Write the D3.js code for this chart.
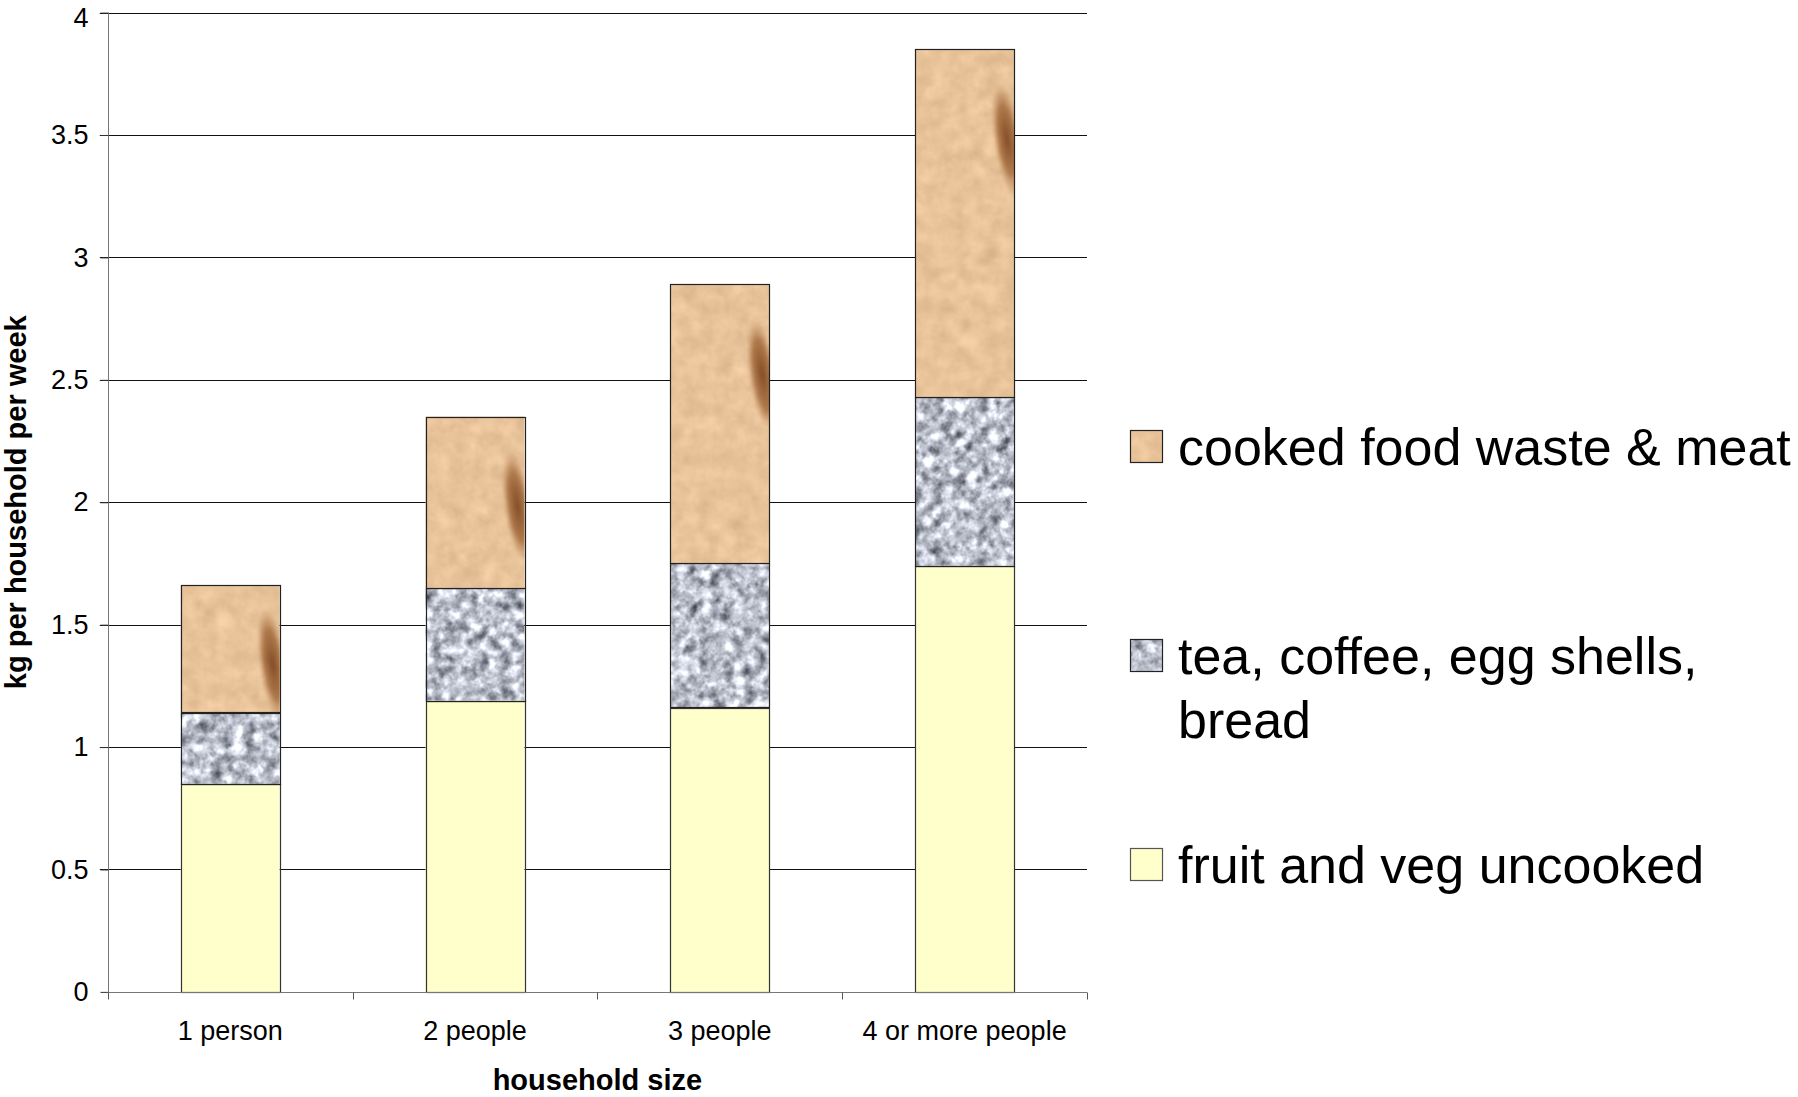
<!DOCTYPE html>
<html><head><meta charset="utf-8">
<script src="https://cdn.jsdelivr.net/npm/d3@7"></script>
<style>
body{margin:0;background:#fff}
text{font-family:"Liberation Sans",Arial,sans-serif;fill:#000}
</style>
</head><body>
<svg id="chart" width="1798" height="1097"></svg>
<script>
// ---- data ----
const categories = ["1 person", "2 people", "3 people", "4 or more people"];
const fruitVeg   = [0.85, 1.19, 1.16, 1.74];
const teaCoffee  = [0.29, 0.46, 0.59, 0.69];
const cookedFood = [0.52, 0.70, 1.14, 1.42];
const seriesKeys = ["fruit", "tea", "cooked"];
const yTicks      = [0, 0.5, 1, 1.5, 2, 2.5, 3, 3.5, 4];
const yTickLabels = ["0", "0.5", "1", "1.5", "2", "2.5", "3", "3.5", "4"];
const legendLabels = {
  cooked: ["cooked food waste & meat"],
  tea: ["tea, coffee, egg shells,", "bread"],
  fruit: ["fruit and veg uncooked"]
};
const legendOrder = ["cooked", "tea", "fruit"];
const xTitle = "household size";
const yTitle = "kg per household per week";

// ---- layout ----
const plot = {left: 107.8, right: 1087, top: 12.6, bottom: 991.9};
const svg = d3.select("#chart");
const defs = svg.append("defs");

// gray speckled texture
const gf = defs.append("filter").attr("id", "grayNoise")
  .attr("x", 0).attr("y", 0).attr("width", 1).attr("height", 1)
  .attr("color-interpolation-filters", "sRGB");
gf.append("feTurbulence").attr("type", "fractalNoise").attr("baseFrequency", 0.09)
  .attr("numOctaves", 3).attr("seed", 7).attr("result", "n");
gf.append("feColorMatrix").attr("in", "n").attr("type", "matrix")
  .attr("values", "0.66 0.66 0.66 0 -0.26  0.66 0.66 0.66 0 -0.245  0.66 0.66 0.66 0 -0.2  0 0 0 0 1")
  .attr("result", "g");
gf.append("feComposite").attr("in", "g").attr("in2", "SourceGraphic").attr("operator", "in");

// beige texture
const bf = defs.append("filter").attr("id", "beigeNoise")
  .attr("x", 0).attr("y", 0).attr("width", 1).attr("height", 1)
  .attr("color-interpolation-filters", "sRGB");
bf.append("feTurbulence").attr("type", "fractalNoise").attr("baseFrequency", 0.06)
  .attr("numOctaves", 3).attr("seed", 3).attr("result", "n");
bf.append("feColorMatrix").attr("in", "n").attr("type", "matrix")
  .attr("values", "0.08 0.08 0.08 0 0.79  0.08 0.08 0.08 0 0.645  0.08 0.08 0.08 0 0.485  0 0 0 0 1")
  .attr("result", "g");
bf.append("feComposite").attr("in", "g").attr("in2", "SourceGraphic").attr("operator", "in");

const rg = defs.append("radialGradient").attr("id", "streak");
rg.append("stop").attr("offset", "0%").attr("stop-color", "#7e4520").attr("stop-opacity", 0.95);
rg.append("stop").attr("offset", "60%").attr("stop-color", "#9a6030").attr("stop-opacity", 0.75);
rg.append("stop").attr("offset", "100%").attr("stop-color", "#c08a58").attr("stop-opacity", 0);
const sb = defs.append("filter").attr("id", "soft");
sb.append("feGaussianBlur").attr("stdDeviation", 1.5);

// ---- scales ----
const y = d3.scaleLinear().domain([0, 4]).range([plot.bottom, plot.top]);
const x = d3.scaleBand().domain(categories).range([plot.left, plot.right])
  .paddingInner(0.596).paddingOuter(0.298);
const xOuter = d3.scaleBand().domain(categories).range([plot.left, plot.right]).padding(0);
const crisp = v => Math.round(v) + 0.5;

// ---- gridlines ----
svg.append("g").selectAll("line").data(yTicks.filter(d => d > 0)).join("line")
  .attr("x1", plot.left - 8).attr("x2", plot.right)
  .attr("y1", d => crisp(y(d))).attr("y2", d => crisp(y(d)))
  .attr("stroke", "#111").attr("stroke-width", 1);

// ---- bars ----
const rows = categories.map((c, i) => ({cat: c, fruit: fruitVeg[i], tea: teaCoffee[i], cooked: cookedFood[i]}));
const stacked = d3.stack().keys(seriesKeys)(rows);
const barsG = svg.append("g");
stacked.forEach(layer => {
  const key = layer.key;
  const g = barsG.append("g");
  layer.forEach((d, i) => {
    const bx = x(d.data.cat), bw = x.bandwidth();
    const by = y(d[1]), bh = y(d[0]) - y(d[1]);
    if (key === "fruit") {
      g.append("rect").attr("x", bx).attr("y", by).attr("width", bw).attr("height", bh)
        .attr("fill", "#FFFFCC");
    } else if (key === "tea") {
      g.append("rect").attr("x", bx).attr("y", by).attr("width", bw).attr("height", bh)
        .attr("fill", "#bbb").attr("filter", "url(#grayNoise)");
    } else {
      const cid = "clipC" + i;
      defs.append("clipPath").attr("id", cid).append("rect")
        .attr("x", bx).attr("y", by).attr("width", bw).attr("height", bh);
      g.append("rect").attr("x", bx).attr("y", by).attr("width", bw).attr("height", bh)
        .attr("fill", "#e8c49e").attr("filter", "url(#beigeNoise)");
      const cx = bx + bw * 0.93, cy = by + Math.min(bh * 0.62, 90);
      g.append("g").attr("clip-path", "url(#" + cid + ")")
        .append("ellipse").attr("cx", cx).attr("cy", cy).attr("rx", bw * 0.14).attr("ry", 58)
        .attr("transform", `rotate(-8 ${cx} ${cy})`)
        .attr("fill", "url(#streak)").attr("filter", "url(#soft)");
    }
    g.append("rect").attr("x", crisp(bx)).attr("y", crisp(by))
      .attr("width", Math.round(bw)).attr("height", Math.round(bh))
      .attr("fill", "none").attr("stroke", key === "fruit" ? "#333" : "#222").attr("stroke-width", 1.2);
  });
});

// ---- axes ----
const yAxis = svg.append("g").attr("transform", `translate(${crisp(plot.left)},0)`)
  .call(d3.axisLeft(y).tickValues(yTicks).tickFormat((d, i) => yTickLabels[i]).tickSize(8).tickPadding(12));
yAxis.select(".domain").attr("stroke", "#777").attr("d", `M0,${plot.top}V${crisp(plot.bottom)}`);
yAxis.selectAll(".tick line").attr("stroke", "#333");
yAxis.selectAll(".tick text").attr("font-size", 27).attr("font-family", "Liberation Sans, Arial, sans-serif")
  .attr("fill", "#000")
  .attr("dy", d => (y(d) < 20 ? "0.52em" : "0.32em"));

const xg = svg.append("g");
xg.append("line").attr("x1", plot.left).attr("x2", plot.right)
  .attr("y1", crisp(plot.bottom)).attr("y2", crisp(plot.bottom)).attr("stroke", "#777");
const bounds = categories.map(c => xOuter(c)).concat([plot.right]);
xg.selectAll(".ct").data(bounds).join("line")
  .attr("x1", d => crisp(d)).attr("x2", d => crisp(d))
  .attr("y1", crisp(plot.bottom)).attr("y2", crisp(plot.bottom) + 7).attr("stroke", "#555");
xg.selectAll(".cl").data(categories).join("text")
  .attr("x", d => xOuter(d) + xOuter.bandwidth() / 2).attr("y", 1040)
  .attr("text-anchor", "middle").attr("font-size", 27).text(d => d);

svg.append("text").attr("x", (plot.left + plot.right) / 2).attr("y", 1090)
  .attr("text-anchor", "middle").attr("font-size", 29).attr("font-weight", "bold").text(xTitle);
svg.append("text").attr("transform", `translate(26,${(plot.top + plot.bottom) / 2}) rotate(-90)`)
  .attr("text-anchor", "middle").attr("font-size", 29).attr("font-weight", "bold").text(yTitle);

// ---- legend ----
const legendY = {cooked: 430, tea: 639, fruit: 848};
const lg = svg.append("g");
legendOrder.forEach(k => {
  const sy = legendY[k];
  const item = lg.append("g");
  if (k === "fruit") {
    item.append("rect").attr("x", 1130).attr("y", sy).attr("width", 33).attr("height", 33).attr("fill", "#FFFFCC");
  } else if (k === "tea") {
    item.append("rect").attr("x", 1130).attr("y", sy).attr("width", 33).attr("height", 33)
      .attr("fill", "#bbb").attr("filter", "url(#grayNoise)");
  } else {
    item.append("rect").attr("x", 1130).attr("y", sy).attr("width", 33).attr("height", 33)
      .attr("fill", "#e8c49e").attr("filter", "url(#beigeNoise)");
  }
  item.append("rect").attr("x", 1130.5).attr("y", sy + 0.5).attr("width", 32).attr("height", 32)
    .attr("fill", "none").attr("stroke", k === "fruit" ? "#555" : "#222").attr("stroke-width", 1.2);
  legendLabels[k].forEach((line, j) => {
    item.append("text").attr("x", 1178).attr("y", sy + 35 + j * 64)
      .attr("font-size", 52).text(line);
  });
});
</script>
</body></html>
